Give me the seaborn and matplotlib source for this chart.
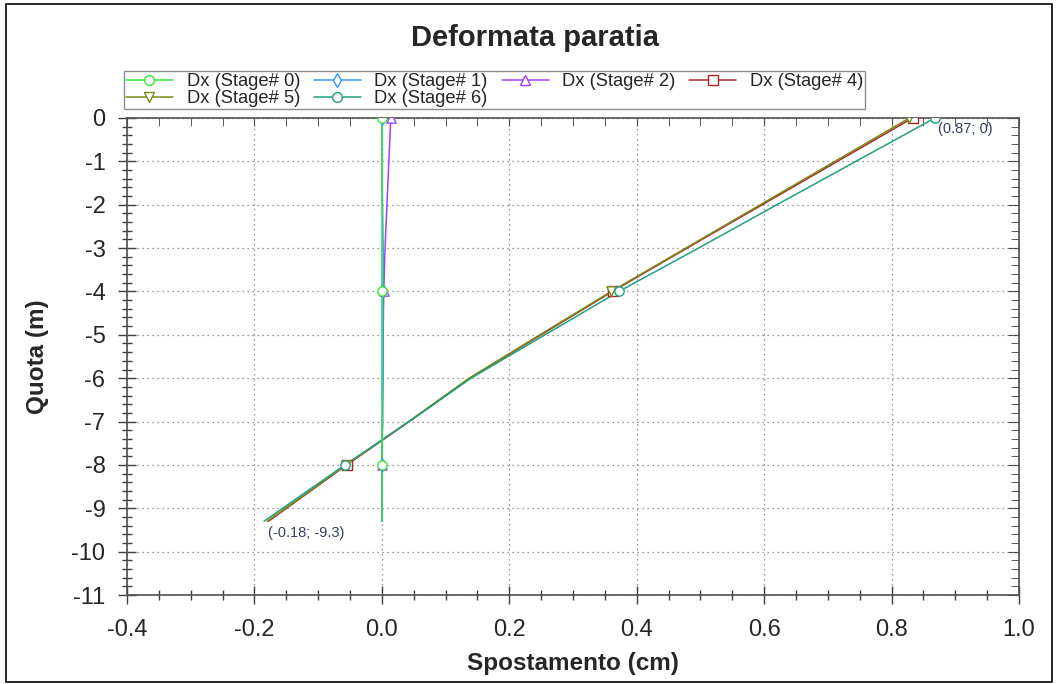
import matplotlib
matplotlib.use("Agg")
import matplotlib.pyplot as plt
import numpy as np
import pandas as pd
import seaborn as sns
from matplotlib.lines import Line2D
from matplotlib.patches import Rectangle
from matplotlib.ticker import MultipleLocator

# depth of nodes (m) and wall displacement per stage (cm)
quota = [0, -1, -2, -3, -4, -5, -6, -7, -8, -9.3]
stage0 = [0.0, 0.0, 0.0, 0.0, 0.0, 0.0, 0.0, 0.0, 0.0, 0.0]
stage1 = [0.0, 0.0, 0.001, 0.002, 0.002, 0.002, 0.002, 0.001, 0.0, 0.0]
stage2 = [0.014, 0.011, 0.008, 0.005, 0.003, 0.002, 0.001, 0.001, 0.0, 0.0]
stage4 = [0.833, 0.715, 0.597, 0.479, 0.362, 0.250, 0.138, 0.043, -0.055, -0.178]
stage5 = [0.828, 0.711, 0.594, 0.477, 0.360, 0.248, 0.137, 0.042, -0.056, -0.180]
stage6 = [0.868, 0.744, 0.620, 0.497, 0.372, 0.256, 0.140, 0.043, -0.058, -0.185]
marker_rows = [0, 4, 8]  # nodes that carry a marker

series = [
    ("Dx (Stage# 0)", stage0, "#33e633", "o"),
    ("Dx (Stage# 1)", stage1, "#3399ff", "d"),
    ("Dx (Stage# 2)", stage2, "#a040ff", "^"),
    ("Dx (Stage# 4)", stage4, "#a82828", "s"),
    ("Dx (Stage# 5)", stage5, "#7a8a1a", "v"),
    ("Dx (Stage# 6)", stage6, "#1fa07e", "o"),
]

sns.set_style("white")
plt.rcParams['font.family'] = ['Liberation Sans', 'DejaVu Sans']

fig = plt.figure(figsize=(10.57, 6.84), dpi=100)
ax = fig.add_axes([127 / 1057, 1 - 595 / 684, (1019 - 127) / 1057, (595 - 118) / 684])

# draw order: moving stages first, stage 0 on top near zero
draw_order = [3, 4, 5, 2, 1, 0]
handles = {}
for i in draw_order:
    label, vals, color, mk = series[i]
    df = pd.DataFrame({"x": vals, "y": quota})
    sns.lineplot(data=df, x="x", y="y", sort=False, orient="y", estimator=None,
                 ax=ax, color=color, lw=1.1, legend=False)
    sns.scatterplot(data=df.iloc[marker_rows], x="x", y="y", ax=ax, marker=mk, s=45,
                    facecolor="white", edgecolor=color, linewidth=1.0, legend=False,
                    zorder=3)
    handles[i] = Line2D([], [], color=color, lw=1.1, marker=mk, markersize=7,
                        mfc="white", mec=color, mew=1.0)

ax.xaxis.set_minor_locator(MultipleLocator(0.05))
ax.yaxis.set_minor_locator(MultipleLocator(0.2))
ax.set_xticks(np.arange(-0.4, 1.01, 0.2))
ax.set_xticklabels(["-0.4", "-0.2", "0.0", "0.2", "0.4", "0.6", "0.8", "1.0"])
ax.set_yticks(np.arange(-11, 0.5, 1))
ax.set_yticklabels([str(int(v)) for v in np.arange(-11, 0.5, 1)])
ax.set_xlim(-0.4, 1.0)
ax.set_ylim(-11, 0)
ax.grid(True, which="major", ls=(0, (1, 3)), color="#777777", lw=0.9)
ax.tick_params(axis="both", which="major", direction="inout", length=13, width=1.0,
               color="#404040", labelsize=17, bottom=True, left=True)
ax.tick_params(axis="y", which="major", pad=9)
ax.tick_params(axis="x", which="major", pad=11)
ax.tick_params(axis="both", which="minor", direction="inout", length=7, width=1.0,
               color="#404040", bottom=True, left=True)
for s in ax.spines.values():
    s.set_color("#505050")
    s.set_linewidth(1.2)

# inward ticks on top and right
sec_x = ax.secondary_xaxis("top")
sec_x.xaxis.set_major_locator(MultipleLocator(0.2))
sec_x.xaxis.set_minor_locator(MultipleLocator(0.05))
sec_x.tick_params(which="major", direction="in", length=6, color="#404040", labeltop=False)
sec_x.tick_params(which="minor", direction="in", length=6, color="#404040")
sec_x.spines["top"].set_visible(False)
sec_y = ax.secondary_yaxis("right")
sec_y.yaxis.set_major_locator(MultipleLocator(1))
sec_y.yaxis.set_minor_locator(MultipleLocator(0.2))
sec_y.tick_params(which="major", direction="in", length=8, color="#404040", labelright=False)
sec_y.tick_params(which="minor", direction="in", length=6, color="#404040")
sec_y.spines["right"].set_visible(False)

ax.set_xlabel("Spostamento (cm)", fontsize=17.5, fontweight="bold", labelpad=8)
ax.set_ylabel("Quota (m)", fontsize=17.5, fontweight="bold", labelpad=16)
fig.text(535 / 1057, 1 - 38 / 684, "Deformata paratia", ha="center", va="center",
         fontsize=21, fontweight="bold")

ax.text(stage6[0] + 0.005, quota[0] - 0.1, "(0.87; 0)", fontsize=10.5, color="#34405a",
        ha="left", va="top")
ax.text(stage4[-1], quota[-1] - 0.1, "(-0.18; -9.3)", fontsize=10.5, color="#34405a",
        ha="left", va="top")

leg_order = [0, 4, 1, 5, 2, 3]
leg = fig.legend([handles[i] for i in leg_order], [series[i][0] for i in leg_order],
                 loc="lower left", bbox_to_anchor=(124 / 1057, 1 - 109 / 684), ncol=4,
                 fontsize=13.2, frameon=True, fancybox=False, handlelength=2.56,
                 columnspacing=0.75, handletextpad=0.75, borderpad=0.1, labelspacing=0.0,
                 borderaxespad=0)
leg.get_frame().set_edgecolor("#707070")
leg.get_frame().set_linewidth(1.0)

fig.patches.append(Rectangle((6 / 1057, 2 / 684), 1046 / 1057, 678 / 684, transform=fig.transFigure,
                             fill=False, edgecolor="black", lw=1.2))

fig.savefig("out.png", dpi=100)
